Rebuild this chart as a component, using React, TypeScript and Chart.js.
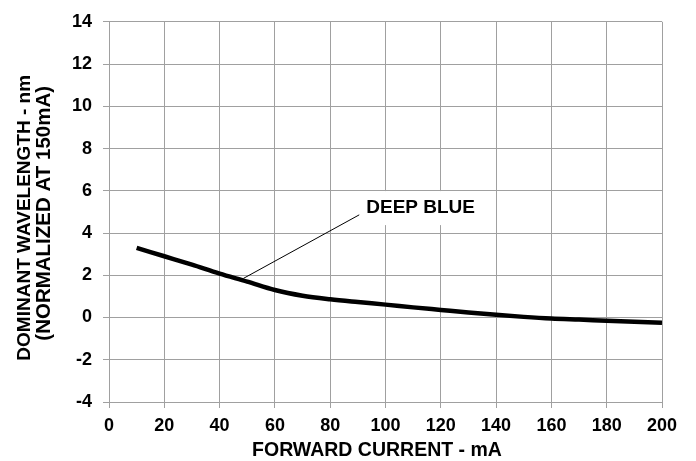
import React, { useEffect, useRef } from "react";
import { Chart, registerables } from "chart.js";

Chart.register(...registerables);

// Forward current (mA) and dominant wavelength shift (nm, normalized at 150 mA)
const currentMa = [10, 20, 30, 40, 50, 60, 70, 80, 90, 100, 110, 120, 130, 140, 150, 160, 170, 180, 190, 200];
const wavelengthShift = [3.3, 2.9, 2.5, 2.08, 1.7, 1.3, 1.03, 0.86, 0.73, 0.61, 0.48, 0.36, 0.24, 0.13, 0.03, -0.05, -0.1, -0.15, -0.2, -0.25];

const seriesName = "DEEP BLUE";
const xTitle = "FORWARD CURRENT - mA";
const yTitleLines = ["DOMINANT WAVELENGTH - nm", "(NORMALIZED AT 150mA)"];

// Callout: label position and leader line ends, in data units
const calloutLabelAt = { x: 112.7, y: 5.18 };
const calloutLineFrom = { x: 48.6, y: 1.85 };
const calloutLineTo = { x: 90.5, y: 4.86 };

const FONT = '"Liberation Sans", Arial, Helvetica, sans-serif';
const GRID = "#a0a0a0";

const calloutPlugin = {
  id: "callout",
  beforeDatasetsDraw(chart: any) {
    const { ctx, scales } = chart;
    const xs = scales.x;
    const ys = scales.y;
    ctx.save();
    ctx.font = `bold 19px ${FONT}`;
    const tx = xs.getPixelForValue(calloutLabelAt.x);
    const ty = ys.getPixelForValue(calloutLabelAt.y);
    const w = ctx.measureText(seriesName).width + 16;
    const h = 34;
    ctx.fillStyle = "#ffffff";
    ctx.fillRect(tx - w / 2, ty - h / 2, w, h);
    ctx.fillStyle = "#000000";
    ctx.textAlign = "center";
    ctx.textBaseline = "middle";
    ctx.fillText(seriesName, tx, ty);
    ctx.beginPath();
    ctx.strokeStyle = "#000000";
    ctx.lineWidth = 1;
    ctx.moveTo(xs.getPixelForValue(calloutLineFrom.x), ys.getPixelForValue(calloutLineFrom.y));
    ctx.lineTo(xs.getPixelForValue(calloutLineTo.x), ys.getPixelForValue(calloutLineTo.y));
    ctx.stroke();
    ctx.restore();
  },
};

// Axis titles, placed beside the axes
const axisTitlePlugin = {
  id: "axisTitles",
  afterDraw(chart: any) {
    const { ctx, chartArea } = chart;
    ctx.save();
    ctx.fillStyle = "#000000";
    ctx.textAlign = "center";
    ctx.textBaseline = "alphabetic";

    // x title, just under the tick labels
    ctx.font = `bold 19.5px ${FONT}`;
    ctx.fillText(xTitle, chartArea.left + 268, chartArea.bottom + 54);

    // y title, two rotated lines
    const centers = [chartArea.top + 196, chartArea.top + 191.5];
    const baselines = [30, 50];
    const sizes = [19, 20.5];
    yTitleLines.forEach((line, i) => {
      ctx.save();
      ctx.translate(baselines[i], centers[i]);
      ctx.rotate(-Math.PI / 2);
      ctx.font = `bold ${sizes[i]}px ${FONT}`;
      ctx.fillText(line, 0, 0);
      ctx.restore();
    });
    ctx.restore();
  },
};

export default function App() {
  const canvasRef = useRef<HTMLCanvasElement>(null);

  useEffect(() => {
    if (!canvasRef.current) return;
    const chart = new Chart(canvasRef.current, {
      type: "line",
      data: {
        datasets: [
          {
            label: seriesName,
            data: currentMa.map((x, i) => ({ x, y: wavelengthShift[i] })),
            borderColor: "#000000",
            borderWidth: 4.5,
            pointRadius: 0,
            fill: false,
            cubicInterpolationMode: "monotone",
          },
        ],
      },
      options: {
        animation: false,
        responsive: true,
        maintainAspectRatio: false,
        layout: { padding: { left: 0, right: 34, top: 21, bottom: 0 } },
        plugins: {
          legend: { display: false },
          tooltip: { enabled: false },
        },
        scales: {
          x: {
            type: "linear",
            min: 0,
            max: 200,
            ticks: {
              stepSize: 20,
              color: "#000000",
              padding: 7,
              font: { family: FONT, size: 18, weight: "bold" },
            },
            grid: { color: GRID, lineWidth: 1, tickLength: 6, drawTicks: true },
            border: { color: GRID, width: 1 },
            afterFit(scale: any) {
              scale.height = 59;
            },
          },
          y: {
            type: "linear",
            min: -4,
            max: 14,
            ticks: {
              stepSize: 2,
              color: "#000000",
              padding: 11,
              font: { family: FONT, size: 18, weight: "bold" },
            },
            grid: { color: GRID, lineWidth: 1, tickLength: 6, drawTicks: true },
            border: { color: GRID, width: 1 },
            afterFit(scale: any) {
              scale.width = 109;
            },
          },
        },
      },
      plugins: [calloutPlugin, axisTitlePlugin],
    });
    return () => chart.destroy();
  }, []);

  return (
    <div style={{ position: "fixed", left: 0, top: 0, width: 696, height: 461, background: "#ffffff" }}>
      <canvas ref={canvasRef} />
    </div>
  );
}
